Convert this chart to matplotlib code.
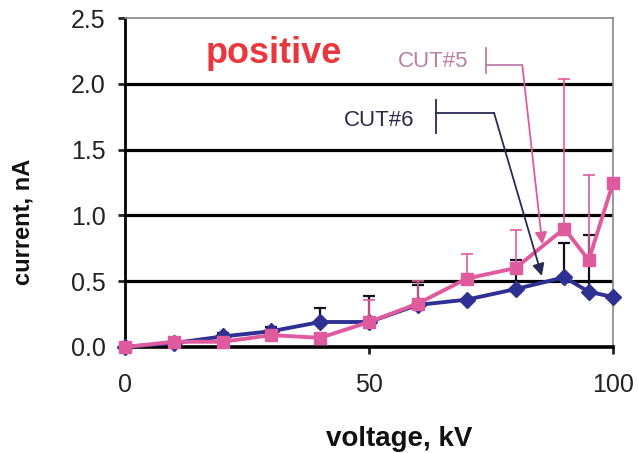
import matplotlib
matplotlib.use("Agg")
import matplotlib.pyplot as plt

plt.rcParams['font.family'] = ['Liberation Sans', 'DejaVu Sans']

# voltage steps (kV)
voltage = [0, 10, 20, 30, 40, 50, 60, 70, 80, 90, 95, 100]

# CUT#6 (blue diamonds) and its upper error bars
cut6 = [0, 0.03, 0.08, 0.12, 0.19, 0.19, 0.32, 0.36, 0.44, 0.53, 0.42, 0.38]
cut6_err = [0, 0, 0.03, 0.03, 0.11, 0.20, 0.15, 0, 0.22, 0.26, 0.43, 0]

# CUT#5 (pink squares) and its upper error bars
cut5 = [0, 0.04, 0.04, 0.09, 0.07, 0.19, 0.33, 0.52, 0.60, 0.90, 0.66, 1.25]
cut5_err = [0, 0, 0, 0, 0, 0.17, 0.17, 0.19, 0.29, 1.14, 0.65, 0]

yticks = [0.0, 0.5, 1.0, 1.5, 2.0, 2.5]
xticks = [0, 50, 100]

blue = '#2E3192'
pink = '#E05A9E'

fig = plt.figure(figsize=(6.38, 4.53), dpi=100)
ax = fig.add_axes([0.196, 0.234, 0.765, 0.726])

# horizontal grid lines (top one is the grey frame)
for lvl in yticks[1:-1]:
    ax.axhline(lvl, color='black', lw=2.3, zorder=1)

zeros = [0] * len(voltage)
ax.errorbar(voltage, cut6, yerr=[zeros, cut6_err], fmt='none', ecolor='#111122',
            elinewidth=1.6, capsize=4, capthick=1.6, zorder=2, clip_on=False)
ax.plot(voltage, cut6, color=blue, lw=2.8, marker='D', markersize=8.5,
        zorder=3, clip_on=False)
ax.errorbar(voltage, cut5, yerr=[zeros, cut5_err], fmt='none', ecolor=pink,
            elinewidth=1.2, capsize=4, capthick=1.2, zorder=4, clip_on=False)
ax.plot(voltage, cut5, color=pink, lw=2.8, marker='s', markersize=9,
        zorder=5, clip_on=False)

# callouts
ax.text(70.3, 2.17, 'CUT#5', color='#B97FA6', fontsize=16, ha='right', va='center')
ax.plot([74.0, 74.0], [2.08, 2.27], color='#B97FA6', lw=1.3)
ax.plot([74.0, 81.4], [2.14, 2.14], color='#B97FA6', lw=1.3)
ax.annotate('', xy=(85.5, 0.78), xytext=(81.4, 2.14),
            arrowprops=dict(arrowstyle='-|>', color=pink, lw=1.3,
                            mutation_scale=18, shrinkA=0, shrinkB=0), zorder=6)

ax.text(59.2, 1.72, 'CUT#6', color='#2A2A4A', fontsize=16, ha='right', va='center')
ax.plot([63.7, 63.7], [1.63, 1.88], color='#2A2A55', lw=1.3)
ax.plot([63.7, 75.6], [1.78, 1.78], color='#2A2A55', lw=1.3)
ax.annotate('', xy=(85.4, 0.54), xytext=(75.6, 1.78),
            arrowprops=dict(arrowstyle='-|>', color='#2A2A55', lw=1.3,
                            mutation_scale=18, shrinkA=0, shrinkB=0), zorder=6)

ax.text(16.6, 2.16, 'positive', color='#E8383D', fontsize=26, fontweight='bold',
        ha='left', va='baseline')

ax.set_xlim(0, 100)
ax.set_ylim(0, 2.5)
ax.set_xticks(xticks)
ax.set_yticks(yticks)
ax.set_yticklabels([f'{v:.1f}' for v in yticks])
ax.tick_params(axis='both', direction='out', length=5, width=2, labelsize=18,
               colors='#222222')
ax.tick_params(axis='y', pad=9)
ax.tick_params(axis='x', pad=14)

ax.spines['left'].set_linewidth(2)
ax.spines['bottom'].set_linewidth(2.6)
for s in ['top', 'right']:
    ax.spines[s].set_color('#888888')
    ax.spines[s].set_linewidth(1.2)

ax.set_xlabel('voltage, kV', fontsize=20, fontweight='bold', color='#111111')
ax.xaxis.set_label_coords(0.561, -0.24)
ax.set_ylabel('current, nA', fontsize=17, fontweight='bold', color='#111111')
ax.yaxis.set_label_coords(-0.185, 0.38)

fig.savefig('out.png', dpi=100)
